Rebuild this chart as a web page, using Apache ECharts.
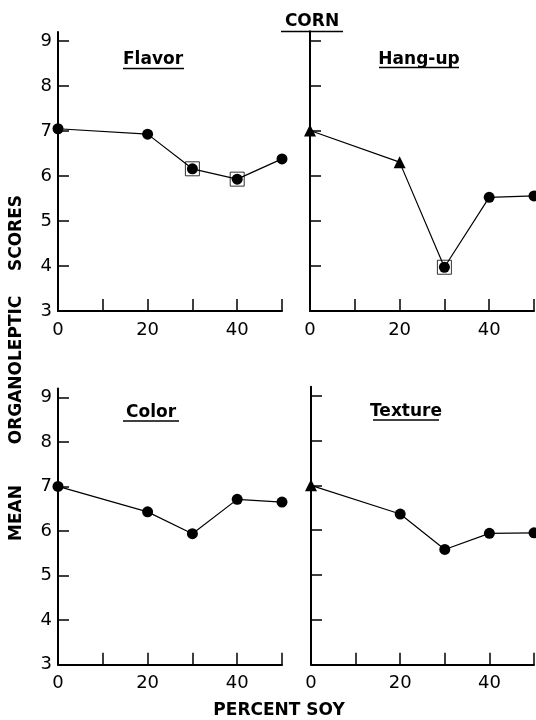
<!DOCTYPE html>
<html>
<head>
<meta charset="utf-8">
<script src="https://cdn.jsdelivr.net/npm/echarts@6/dist/echarts.min.js"></script>
<style>
html,body{margin:0;padding:0;background:#fff;}
#chart{width:536px;height:720px;}
</style>
</head>
<body>
<div id="chart"></div>
<script>
// ---- Data ----
const percentSoy = [0, 20, 30, 40, 50];
const flavor  = [7.05, 6.93, 6.16, 5.93, 6.38];
const hangUp  = [7.00, 6.30, 3.97, 5.52, 5.55];
const color   = [7.00, 6.43, 5.94, 6.71, 6.65];
const texture = [7.00, 6.36, 5.57, 5.93, 5.94];

// points drawn with a triangle instead of a circle (percent soy)
const flavorTriangles  = [];
const hangUpTriangles  = [0, 20];
const colorTriangles   = [];
const textureTriangles = [0];

// points enclosed in an open square (percent soy)
const flavorBoxes  = [30, 40];
const hangUpBoxes  = [30];
const colorBoxes   = [];
const textureBoxes = [];

const panelTitles = ['Flavor', 'Hang-up', 'Color', 'Texture'];
const yTitleWords = ['MEAN', 'ORGANOLEPTIC', 'SCORES'];
const yTickValues = [3, 4, 5, 6, 7, 8, 9];
const xLabelValues = [0, 20, 40];
const xTickValues = [0, 10, 20, 30, 40, 50];

const panels = [
  {vals: flavor,  tri: flavorTriangles,  box: flavorBoxes},
  {vals: hangUp,  tri: hangUpTriangles,  box: hangUpBoxes},
  {vals: color,   tri: colorTriangles,   box: colorBoxes},
  {vals: texture, tri: textureTriangles, box: textureBoxes}
];

// ---- Layout ----
const grids = [
  {left: 58,  top: 32,    width: 224, height: 279},
  {left: 310, top: 31.3,  width: 224, height: 279.7},
  {left: 58,  top: 388.4, width: 224, height: 276.3},
  {left: 311, top: 386.7, width: 223, height: 278}
];

const tickFont = 'DejaVu Sans';
const boldFont = 'DejaVu Sans';

const xAxes = grids.map((g, i) => ({
  type: 'value', gridIndex: i, min: 0, max: 50, interval: 10,
  axisLine: {show: true, onZero: false, lineStyle: {color: '#000', width: 2}},
  axisTick: {show: true, inside: true, length: 12, lineStyle: {color: '#000', width: 1.5}, customValues: xTickValues},
  axisLabel: {show: true, color: '#000', fontSize: 18, fontFamily: tickFont, margin: 10, customValues: xLabelValues},
  splitLine: {show: false}
}));

const yAxes = grids.map((g, i) => ({
  type: 'value', gridIndex: i, min: 3, max: 9.2,
  axisLine: {show: true, onZero: false, lineStyle: {color: '#000', width: 2}},
  axisTick: {show: true, inside: true, length: 11, lineStyle: {color: '#000', width: 1.5}, customValues: yTickValues},
  axisLabel: {show: (i % 2 === 0), color: '#000', fontSize: 18, fontFamily: tickFont, margin: 6, customValues: yTickValues},
  splitLine: {show: false}
}));

const series = [];
panels.forEach((p, i) => {
  // open squares
  series.push({
    type: 'scatter', xAxisIndex: i, yAxisIndex: i, z: 2, clip: false,
    symbol: 'rect', symbolSize: 14, silent: true,
    itemStyle: {color: 'rgba(0,0,0,0)', borderColor: '#000', borderWidth: 1},
    data: p.box.map(x => [x, p.vals[percentSoy.indexOf(x)]])
  });
  // line with markers
  series.push({
    type: 'line', xAxisIndex: i, yAxisIndex: i, z: 3, clip: false,
    lineStyle: {color: '#000', width: 1.2},
    itemStyle: {color: '#000'},
    showSymbol: true, animation: false,
    data: percentSoy.map((x, k) => ({
      value: [x, p.vals[k]],
      symbol: p.tri.indexOf(x) >= 0 ? 'triangle' : 'circle',
      symbolSize: p.tri.indexOf(x) >= 0 ? 12 : 11
    }))
  });
});

// titles and decorations
const titlePos = [
  {x: 153, y: 60}, {x: 419, y: 60}, {x: 151, y: 413}, {x: 406, y: 412}
];
const graphic = [];
const underline = (x1, x2, y) => ({
  type: 'line', shape: {x1: x1, y1: y, x2: x2, y2: y}, style: {stroke: '#000', lineWidth: 1.5}, silent: true
});
panelTitles.forEach((t, i) => {
  graphic.push({
    type: 'text', x: titlePos[i].x, y: titlePos[i].y,
    style: {text: t, font: 'bold 17px ' + boldFont, fill: '#000', textAlign: 'center', textVerticalAlign: 'middle'}
  });
});
graphic.push(underline(123, 184, 68.5));
graphic.push(underline(379, 459, 67.5));
graphic.push(underline(123, 179, 421));
graphic.push(underline(373, 439, 420));
// main title
graphic.push({
  type: 'text', x: 312, y: 22,
  style: {text: 'CORN', font: 'bold 17px ' + boldFont, fill: '#000', textAlign: 'center', textVerticalAlign: 'middle'}
});
graphic.push(underline(281, 343, 31.5));
// y-axis title (three words, read bottom to top)
const yWordCenters = [513, 370, 233];
yTitleWords.forEach((w, k) => {
  graphic.push({
    type: 'text', x: 17, y: yWordCenters[k], rotation: Math.PI / 2,
    style: {text: w, font: 'bold 17px ' + boldFont, fill: '#000', textAlign: 'center', textVerticalAlign: 'middle'}
  });
});
// x-axis title
graphic.push({
  type: 'text', x: 279, y: 711,
  style: {text: 'PERCENT SOY', font: 'bold 17px ' + boldFont, fill: '#000', textAlign: 'center', textVerticalAlign: 'middle'}
});

const chart = echarts.init(document.getElementById('chart'), null, {renderer: 'canvas'});
chart.setOption({
  backgroundColor: '#fff',
  animation: false,
  grid: grids,
  xAxis: xAxes,
  yAxis: yAxes,
  series: series,
  graphic: graphic
});
</script>
</body>
</html>
